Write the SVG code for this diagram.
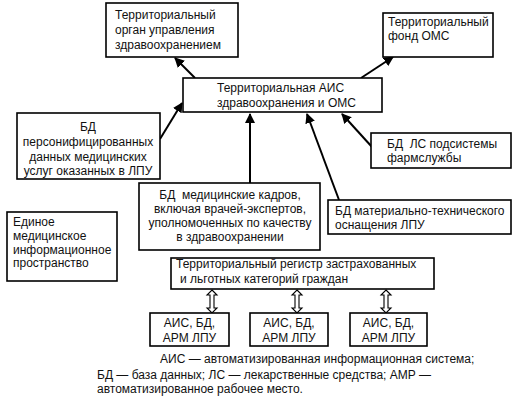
<svg xmlns="http://www.w3.org/2000/svg" width="512" height="408" viewBox="0 0 512 408">
<defs>
<marker id="ah" viewBox="0 0 10 10" refX="9" refY="5" markerWidth="5" markerHeight="5" orient="auto" markerUnits="strokeWidth">
<path d="M0,0 L10,5 L0,10 z" fill="#000"/>
</marker>
<style>
rect.b{fill:#fff;stroke:#000;stroke-width:1.6}
text{font-family:"Liberation Sans",Arial,sans-serif;font-size:12px;fill:#111}
.c{text-anchor:middle}
line.a{stroke:#000;stroke-width:2;marker-end:url(#ah)}
.d{fill:#fff;stroke:#000;stroke-width:1.1}
</style>
</defs>
<rect width="512" height="408" fill="#fff"/>
<g id="connectors">
<line class="a" x1="195" y1="78" x2="175" y2="58"/>
<line class="a" x1="361" y1="78" x2="393" y2="57"/>
<line class="a" x1="160" y1="139" x2="182" y2="103"/>
<line class="a" x1="250" y1="183" x2="250" y2="114"/>
<line class="a" x1="339" y1="200" x2="307" y2="114"/>
<line class="a" x1="372" y1="147" x2="342" y2="114"/>
<path class="d" d="M212,290 l5,5 h-3 v13 h3 l-5,5 l-5,-5 h3 v-13 h-3 z"/>
<path class="d" d="M297,290 l5,5 h-3 v13 h3 l-5,5 l-5,-5 h3 v-13 h-3 z"/>
<path class="d" d="M386,290 l5,5 h-3 v13 h3 l-5,5 l-5,-5 h3 v-13 h-3 z"/>
</g>
<g id="organ">
<rect class="b" x="106" y="3" width="132" height="54"/>
<text x="115" y="19">Территориальный</text>
<text x="115" y="34">орган управления</text>
<text x="115" y="49">здравоохранением</text>
</g>
<g id="fond">
<rect class="b" x="383" y="13" width="110" height="44"/>
<text x="388" y="26">Территориальный</text>
<text x="388" y="40">фонд ОМС</text>
</g>
<g id="ais">
<rect class="b" x="183" y="78" width="199" height="34"/>
<text x="217" y="92">Территориальная АИС</text>
<text x="217" y="107">здравоохранения и ОМС</text>
</g>
<g id="bd-pers">
<rect class="b" x="17" y="113" width="143" height="66"/>
<text class="c" x="88" y="131">БД</text>
<text class="c" x="88" y="146">персонифицированных</text>
<text class="c" x="88" y="161">данных медицинских</text>
<text class="c" x="88" y="175">услуг оказанных в ЛПУ</text>
</g>
<g id="bd-ls">
<rect class="b" x="371" y="133" width="140" height="35"/>
<text x="387" y="148">БД&#160; ЛС подсистемы</text>
<text x="387" y="162">фармслужбы</text>
</g>
<g id="bd-kadry">
<rect class="b" x="139" y="183" width="181" height="67"/>
<text class="c" x="230" y="199">БД&#160; медицинские кадров,</text>
<text class="c" x="230" y="213">включая врачей-экспертов,</text>
<text class="c" x="230" y="227">уполномоченных по качеству</text>
<text class="c" x="230" y="241">в здравоохранении</text>
</g>
<g id="bd-mat">
<rect class="b" x="328" y="200" width="183" height="34"/>
<text x="335" y="215">БД материально-технического</text>
<text x="335" y="229">оснащения ЛПУ</text>
</g>
<g id="edinoe">
<rect class="b" x="7" y="212" width="110" height="69"/>
<text x="13" y="226">Единое</text>
<text x="13" y="240">медицинское</text>
<text x="13" y="254">информационное</text>
<text x="13" y="267">пространство</text>
</g>
<g id="registr">
<rect class="b" x="171" y="258" width="263" height="31"/>
<text x="176" y="268">Территориальный регистр застрахованных</text>
<text x="180" y="283">и льготных категорий граждан</text>
</g>
<g id="lpu1">
<rect class="b" x="150" y="313" width="79" height="33"/>
<text class="c" x="189.5" y="327">АИС, БД,</text>
<text class="c" x="189.5" y="342">АРМ ЛПУ</text>
</g>
<g id="lpu2">
<rect class="b" x="250" y="313" width="78" height="33"/>
<text class="c" x="289" y="327">АИС, БД,</text>
<text class="c" x="289" y="342">АРМ ЛПУ</text>
</g>
<g id="lpu3">
<rect class="b" x="350" y="313" width="77" height="33"/>
<text class="c" x="388.5" y="327">АИС, БД,</text>
<text class="c" x="388.5" y="342">АРМ ЛПУ</text>
</g>
<g id="legend">
<text x="160" y="363">АИС — автоматизированная информационная система;</text>
<text x="97" y="379">БД — база данных; ЛС — лекарственные средства; АМР —</text>
<text x="97" y="393">автоматизированное рабочее место.</text>
</g>
</svg>
